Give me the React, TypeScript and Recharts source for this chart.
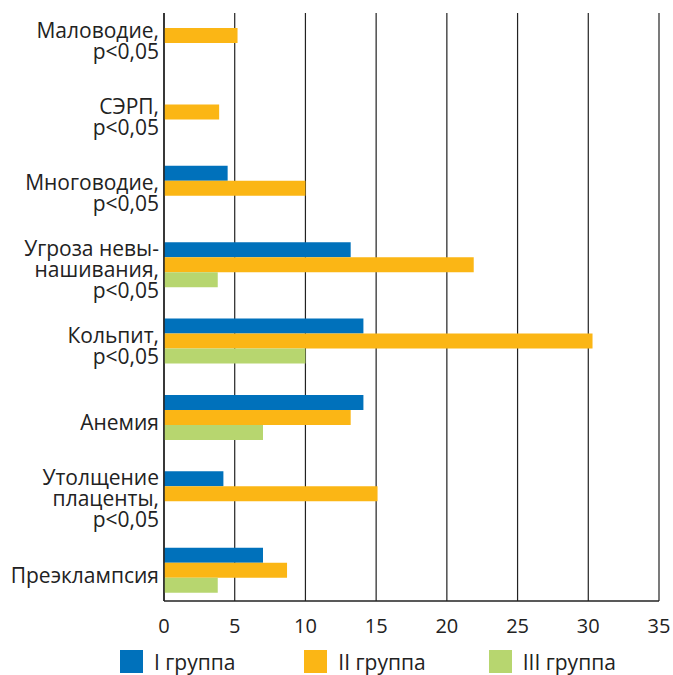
import { Bar, BarChart, CartesianGrid, Legend, XAxis, YAxis } from "recharts";

const categories = [
  "Маловодие,\np<0,05",
  "СЭРП,\np<0,05",
  "Многоводие,\np<0,05",
  "Угроза невы-\nнашивания,\np<0,05",
  "Кольпит,\np<0,05",
  "Анемия",
  "Утолщение\nплаценты,\np<0,05",
  "Преэклампсия",
];
const group1 = [null, null, 4.5, 13.2, 14.1, 14.1, 4.2, 7.0];
const group2 = [5.2, 3.9, 10.0, 21.9, 30.3, 13.2, 15.1, 8.7];
const group3 = [null, null, null, 3.8, 10.0, 7.0, null, 3.8];
const xTicks = [0, 5, 10, 15, 20, 25, 30, 35];
const seriesNames = ["I группа", "II группа", "III группа"];
const seriesColors = ["#0071bb", "#fbb615", "#b7d66f"];

const data = categories.map((name, i) => ({
  name,
  g1: group1[i],
  g2: group2[i],
  g3: group3[i],
}));

const ink = "#222";
const font = "'Open Sans', sans-serif";

function CategoryTick({ x, y, payload }: any) {
  const lines = String(payload.value).split("\n");
  const lh = 21;
  const top = y + 5 - ((lines.length - 1) * lh) / 2;
  return (
    <text x={x + 3} y={top} textAnchor="end" dominantBaseline="central" fill={ink} fontSize={21} fontFamily={font}>
      {lines.map((l, i) => (
        <tspan key={i} x={x + 3} y={top + i * lh}>
          {l}
        </tspan>
      ))}
    </text>
  );
}

function LegendContent({ payload }: any) {
  return (
    <div style={{ display: "flex", alignItems: "center", height: 27, paddingLeft: 120, fontFamily: font, fontSize: 21, color: ink }}>
      {(payload ?? []).map((p: any) => (
        <div key={p.value} style={{ width: 190, display: "flex", alignItems: "center" }}>
          <span style={{ display: "inline-block", width: 23, height: 23, background: p.color, marginRight: 11 }} />
          <span>{p.value}</span>
        </div>
      ))}
    </div>
  );
}

export default function App() {
  return (
    <div style={{ position: "absolute", left: 0, top: 0, width: 673, height: 675, background: "#fff", fontFamily: font }}>
      <BarChart
        width={673}
        height={675}
        data={data}
        layout="vertical"
        margin={{ top: 13, right: 14, bottom: 0, left: 0 }}
        barCategoryGap="21%"
        barGap={0}
      >
        <CartesianGrid horizontal={false} stroke={ink} strokeWidth={1.2} />
        <XAxis
          type="number"
          domain={[0, 35]}
          ticks={xTicks}
          interval={0}
          height={47}
          tickLine={false}
          tickMargin={12}
          axisLine={{ stroke: ink, strokeWidth: 1.5 }}
          tick={{ fill: ink, fontSize: 20, fontFamily: font }}
        />
        <YAxis
          type="category"
          dataKey="name"
          width={164}
          padding={{ top: -16, bottom: -7 }}
          tickLine={false}
          axisLine={{ stroke: ink, strokeWidth: 1.5 }}
          tick={<CategoryTick />}
          interval={0}
        />
        <Legend verticalAlign="bottom" content={<LegendContent />} wrapperStyle={{ left: 0, bottom: 0, width: 673 }} />
        <Bar dataKey="g1" name={seriesNames[0]} fill={seriesColors[0]} isAnimationActive={false} />
        <Bar dataKey="g2" name={seriesNames[1]} fill={seriesColors[1]} isAnimationActive={false} />
        <Bar dataKey="g3" name={seriesNames[2]} fill={seriesColors[2]} isAnimationActive={false} />
      </BarChart>
    </div>
  );
}
